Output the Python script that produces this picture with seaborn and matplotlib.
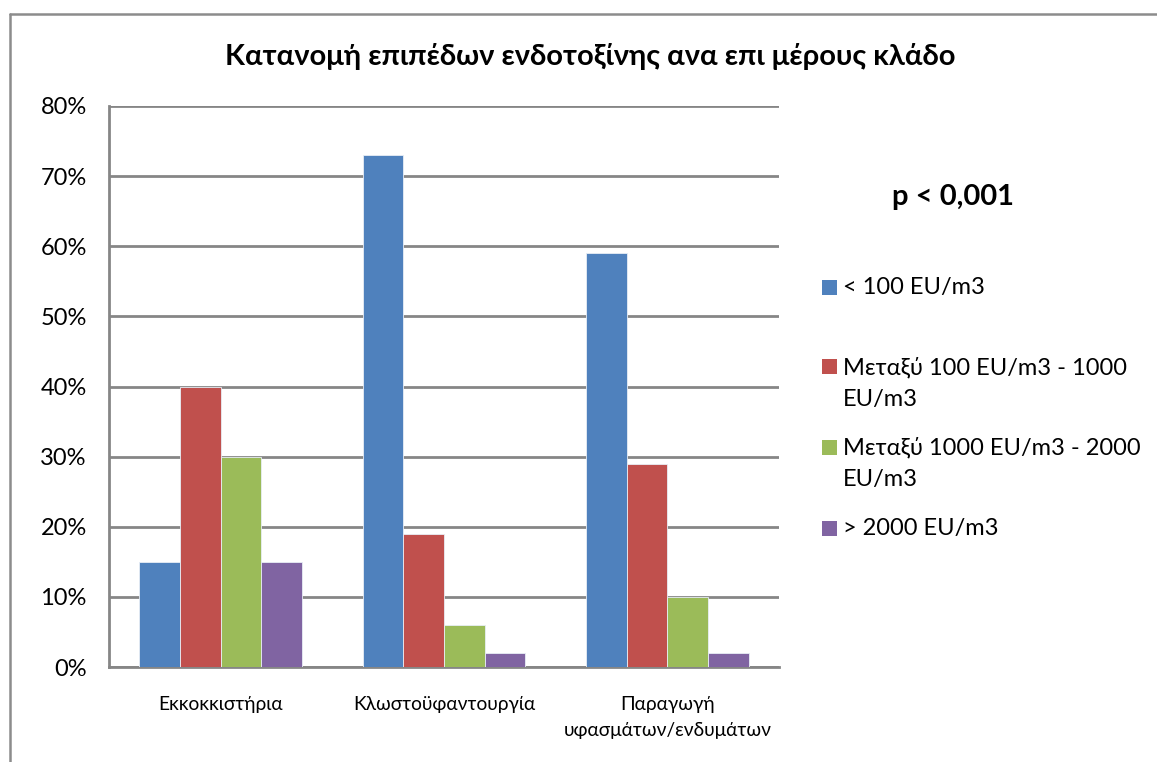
import matplotlib
matplotlib.use("Agg")
import matplotlib.pyplot as plt
import matplotlib.ticker as mticker
from matplotlib.lines import Line2D
from matplotlib.patches import Rectangle
import seaborn as sns
import pandas as pd

# Data
sectors = ["Εκκοκκιστήρια", "Κλωστοϋφαντουργία", "Παραγωγή\nυφασμάτων/ενδυμάτων"]
levels = ["< 100 EU/m3", "Μεταξύ 100 EU/m3 - 1000 EU/m3",
          "Μεταξύ 1000 EU/m3 - 2000 EU/m3", "> 2000 EU/m3"]
legend_labels = ["< 100 EU/m3", "Μεταξύ 100 EU/m3 - 1000\nEU/m3",
                 "Μεταξύ 1000 EU/m3 - 2000\nEU/m3", "> 2000 EU/m3"]
below_100 = [0.15, 0.73, 0.59]
from_100_to_1000 = [0.40, 0.19, 0.29]
from_1000_to_2000 = [0.30, 0.06, 0.10]
above_2000 = [0.15, 0.02, 0.02]
yticks = [0.0, 0.1, 0.2, 0.3, 0.4, 0.5, 0.6, 0.7, 0.8]
title = "Κατανομή επιπέδων ενδοτοξίνης ανα επι μέρους κλάδο"
p_text = "p < 0,001"

colors = ["#4F81BD", "#C0504D", "#9BBB59", "#8064A2"]

series = [below_100, from_100_to_1000, from_1000_to_2000, above_2000]
rows = []
for lvl, vals in zip(levels, series):
    for sec, v in zip(sectors, vals):
        rows.append({"sector": sec, "level": lvl, "share": v})
df = pd.DataFrame(rows)

sns.set_style("white")
plt.rcParams["font.family"] = ["Lato", "Open Sans", "DejaVu Sans"]
plt.rcParams["text.color"] = "black"

W, H = 1157, 762
fig = plt.figure(figsize=(W / 100, H / 100), dpi=100)
ax = fig.add_axes([109 / W, 1 - 667 / H, (779 - 109) / W, (667 - 106) / H])

sns.barplot(data=df, x="sector", y="share", hue="level", order=sectors,
            hue_order=levels, palette=colors, width=0.727, gap=0,
            edgecolor="#E8EEF6", linewidth=0.6, saturation=1,
            legend=False, ax=ax, zorder=3)

grid_c = "#868686"
ax.set_ylim(0, 0.8)
ax.set_xlim(-0.5, 2.5)
ax.set_yticks(yticks)
ax.yaxis.set_major_formatter(mticker.FuncFormatter(lambda v, p: f"{v * 100:.0f}%"))
ax.yaxis.grid(True, color=grid_c, linewidth=2, zorder=0)
ax.set_axisbelow(True)
ax.tick_params(axis="y", length=0, labelsize=17, pad=16, labelcolor="black")
ax.tick_params(axis="x", length=0, labelsize=13.8, pad=21, labelcolor="black")
for lbl in ax.get_xticklabels():
    lbl.set_linespacing(1.6)
ax.set_xlabel("")
ax.set_ylabel("")
for side in ["top", "right"]:
    ax.spines[side].set_visible(False)
for side in ["left", "bottom"]:
    ax.spines[side].set_color(grid_c)
    ax.spines[side].set_linewidth(2)

# Title and statistic
fig.text(590 / W, 1 - 57 / H, title, ha="center", va="center",
         fontsize=21, fontweight="bold")
fig.text(953 / W, 1 - 197 / H, p_text, ha="center", va="center",
         fontsize=21, fontweight="bold")

# Legend
sq = 15
entries_y = [287, 367, 447, 528]
for lab, col, yc in zip(legend_labels, colors, entries_y):
    fig.patches.append(Rectangle((822 / W, 1 - (yc + sq / 2) / H), sq / W, sq / H,
                                 transform=fig.transFigure, facecolor=col,
                                 edgecolor="none"))
    fig.text(843 / W, 1 - (yc - 10) / H, lab, ha="left", va="top",
             fontsize=17, linespacing=1.6)

# Chart area border
bc = "#8C8C8C"
fig.add_artist(Line2D([10 / W, 1], [1 - 14 / H, 1 - 14 / H], color=bc,
                      linewidth=1.8, transform=fig.transFigure))
fig.add_artist(Line2D([10 / W, 10 / W], [0, 1 - 14 / H], color=bc,
                      linewidth=1.8, transform=fig.transFigure))

fig.savefig("out.png", dpi=100, facecolor="white")
